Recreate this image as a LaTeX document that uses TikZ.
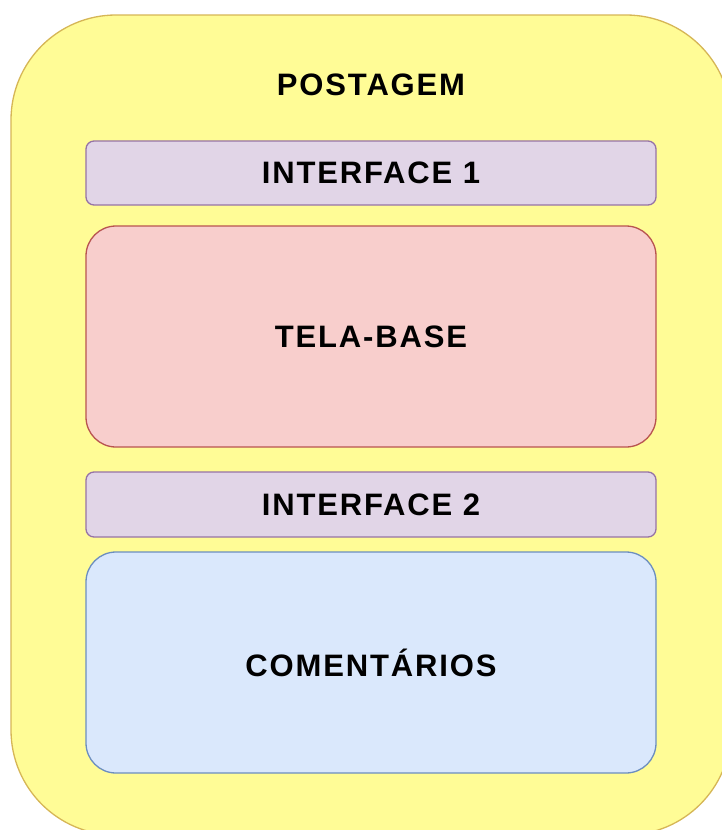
\documentclass[tikz,border=0pt]{standalone}
\usepackage{fontspec}
\setmainfont{Liberation Sans}
\usepackage{tikz}
\usetikzlibrary{positioning}
\definecolor{postfill}{RGB}{255,252,150}
\definecolor{postdraw}{RGB}{214,182,86}
\definecolor{intfill}{RGB}{225,213,231}
\definecolor{intdraw}{RGB}{150,115,166}
\definecolor{telafill}{RGB}{248,206,204}
\definecolor{teladraw}{RGB}{184,84,80}
\definecolor{comfill}{RGB}{218,232,252}
\definecolor{comdraw}{RGB}{108,142,191}
\tikzset{
  outer/.style={draw=postdraw, fill=postfill, line width=1.3pt, rounded corners=105pt,
                minimum width=720pt, minimum height=820pt, inner sep=0pt},
  iface/.style={draw=intdraw, fill=intfill, line width=1.3pt, rounded corners=8pt,
                minimum width=570pt, minimum height=64pt, inner sep=0pt},
  bigbox/.style={line width=1.3pt, rounded corners=30pt,
                minimum width=570pt, minimum height=221pt, inner sep=0pt},
  lbl/.style={font=\fontsize{31}{36}\selectfont\bfseries\addfontfeature{LetterSpace=6}, text=black},
}

\begin{document}
\begin{tikzpicture}[x=1pt, y=-1pt]
        \useasboundingbox (0,0) rectangle (721,830);
        \node[outer] (postagem) at (371,425) {};
        \node[lbl] (titulo) at (371,85) {POSTAGEM};
        \node[iface, lbl] (int1) at (371,173) {INTERFACE 1};
        \node[bigbox, lbl, draw=teladraw, fill=telafill] (tela) at (371,336.5) {TELA-BASE};
        \node[iface, lbl, minimum height=65pt] (int2) at (371,504.5) {INTERFACE 2};
        \node[bigbox, lbl, draw=comdraw, fill=comfill] (coment) at (371,662.5) {COMENTÁRIOS};
      \end{tikzpicture}
\end{document}
